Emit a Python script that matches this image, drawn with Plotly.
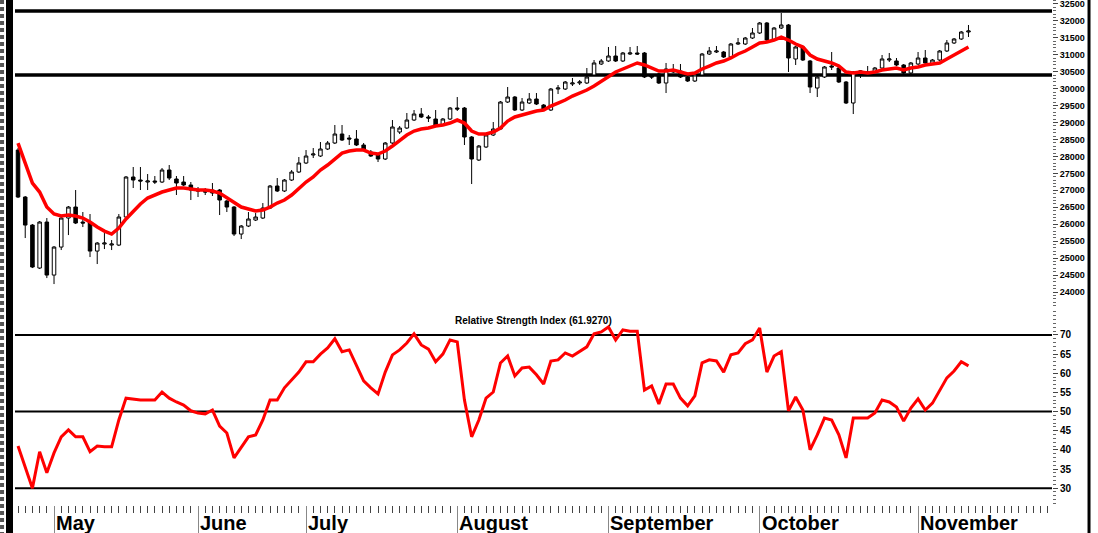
import plotly.graph_objects as go

# ---------------- data ----------------
day = list(range(1, 134))

open_ = [28189, 26803, 25976, 24708, 26065, 24501, 25327, 26183, 26508, 26065,
         26065, 25209, 25416, 25386, 25386, 26213, 27393, 27304, 27245, 27275,
         27245, 27599, 27334, 27245, 27157, 27009, 26980, 27009, 27009, 26685,
         26508, 25711, 25947, 26124, 26183, 26478, 27127, 26980, 27304, 27540,
         27806, 28042, 28012, 28219, 28396, 28661, 28543, 28514, 28337, 28130,
         28042, 27924, 28396, 28720, 28838, 29074, 29251, 29163, 29104, 28927,
         29104, 29428, 29428, 28573, 27894, 28278, 28632, 28809, 29605, 29752,
         29369, 29576, 29693, 29516, 29369, 29988, 29988, 30136, 30166, 30166,
         30402, 30726, 30815, 30962, 30815, 31021, 31051, 31051, 30372, 30431,
         30166, 30490, 30520, 30343, 30225, 30402, 31021, 31080, 31080, 30933,
         31316, 31316, 31493, 31641, 31936, 31434, 31788, 31877, 30874, 31228,
         30815, 30018, 30343, 30667, 30608, 30195, 29576, 30490, 30461, 30490,
         30608, 30844, 30815, 30697, 30461, 30726, 30903, 30726, 30844, 31110,
         31346, 31464, 31670]
high = [28248, 26832, 26006, 26095, 26183, 25357, 26213, 26537, 27009, 26360,
        26301, 25475, 25740, 25534, 26301, 27422, 27688, 27688, 27481, 27422,
        27658, 27747, 27422, 27422, 27245, 27098, 27068, 27216, 27039, 26714,
        26537, 25976, 26360, 26331, 26625, 27157, 27363, 27334, 27599, 27983,
        28189, 28248, 28425, 28455, 28927, 28927, 28632, 28779, 28396, 28189,
        28071, 28425, 29074, 28897, 29281, 29369, 29428, 29222, 29369, 29133,
        29458, 29752, 29458, 28602, 28337, 28661, 29015, 29634, 30048, 29782,
        29723, 29870, 29870, 29546, 30018, 30107, 30225, 30313, 30254, 30608,
        30844, 30874, 31228, 31257, 31080, 31228, 31257, 31080, 30431, 30461,
        30756, 30726, 30726, 30372, 30431, 31051, 31228, 31257, 31110, 31346,
        31493, 31523, 31788, 31965, 31965, 31818, 32231, 31906, 31257, 31257,
        30844, 30372, 30667, 31080, 30638, 30225, 30520, 30549, 30667, 30638,
        30992, 31051, 30903, 30726, 30785, 31080, 31139, 30874, 31139, 31434,
        31493, 31700, 31877]
low = [26773, 25593, 24708, 24679, 24413, 24236, 25239, 25681, 26006, 25917,
       25032, 24826, 25268, 25239, 25357, 26183, 27068, 27009, 27009, 27186,
       27216, 27304, 26862, 27127, 26714, 26803, 26862, 26832, 26272, 26360,
       25652, 25563, 25917, 26095, 26154, 26449, 26950, 26950, 27275, 27511,
       27776, 27953, 27983, 28189, 28366, 28455, 28337, 28307, 28160, 27983,
       27835, 27894, 28366, 28661, 28809, 29045, 29133, 29015, 28897, 28897,
       29074, 29340, 28337, 27186, 27865, 28248, 28602, 28779, 29576, 29340,
       29340, 29546, 29516, 29340, 29340, 29841, 29959, 30077, 30107, 30136,
       30372, 30697, 30785, 30785, 30785, 30992, 30992, 30313, 30284, 30136,
       29870, 30461, 30313, 30195, 30195, 30372, 30992, 31051, 30903, 30903,
       31287, 31287, 31464, 31611, 31405, 31405, 31759, 30490, 30697, 30815,
       29870, 29752, 30313, 30549, 30166, 29546, 29251, 30313, 30431, 30461,
       30579, 30785, 30667, 30431, 30431, 30697, 30726, 30697, 30815, 31080,
       31316, 31434, 31523]
close = [26803, 25976, 24738, 26065, 24501, 25327, 26183, 26508, 26036, 26036,
         25209, 25445, 25445, 25416, 26213, 27393, 27304, 27275, 27275, 27245,
         27599, 27363, 27216, 27157, 27009, 26980, 26950, 26921, 26714, 26508,
         25711, 25947, 26154, 26213, 26478, 27127, 26980, 27304, 27540, 27806,
         28012, 28071, 28219, 28396, 28661, 28484, 28514, 28337, 28189, 28012,
         27924, 28396, 28868, 28838, 29074, 29251, 29163, 29133, 28927, 29104,
         29428, 29399, 28573, 27924, 28307, 28632, 28809, 29605, 29752, 29369,
         29605, 29693, 29546, 29369, 29988, 30018, 30195, 30166, 30195, 30343,
         30756, 30815, 30962, 30815, 31051, 31051, 31021, 30343, 30343, 30166,
         30579, 30549, 30343, 30225, 30402, 31021, 31110, 31110, 30933, 31316,
         31346, 31493, 31641, 31936, 31434, 31788, 31877, 30903, 31228, 30844,
         30048, 30343, 30638, 30638, 30195, 29576, 30490, 30520, 30490, 30608,
         30874, 30874, 30697, 30461, 30756, 30903, 30756, 30844, 31110, 31346,
         31464, 31670, 31700]
moving_avg = [28395, 27776, 27215, 26950, 26507, 26301, 26242, 26272, 26242, 26183,
              26065, 25917, 25799, 25711, 25888, 26154, 26389, 26596, 26773, 26862,
              26950, 27009, 27068, 27068, 27039, 27009, 27009, 26980, 26921, 26773,
              26625, 26507, 26448, 26389, 26419, 26507, 26625, 26714, 26862, 27068,
              27245, 27393, 27599, 27746, 27924, 28100, 28159, 28189, 28189, 28100,
              28071, 28159, 28307, 28484, 28631, 28749, 28808, 28838, 28897, 28926,
              28985, 29074, 28985, 28749, 28661, 28661, 28720, 28838, 29044, 29163,
              29222, 29281, 29339, 29369, 29487, 29575, 29664, 29782, 29870, 29959,
              30077, 30224, 30343, 30490, 30579, 30667, 30756, 30697, 30608, 30519,
              30519, 30549, 30490, 30431, 30461, 30579, 30667, 30756, 30814, 30903,
              31021, 31110, 31227, 31345, 31375, 31434, 31522, 31434, 31316, 31227,
              30991, 30873, 30814, 30756, 30667, 30490, 30461, 30490, 30461, 30490,
              30549, 30579, 30608, 30549, 30608, 30638, 30697, 30726, 30756, 30873,
              30991, 31110, 31227]
rsi = [41.0, 35.5, 30.0, 39.5, 34.0, 39.2, 43.4, 45.2, 43.4, 43.4,
       39.5, 41.0, 40.8, 40.8, 47.8, 53.5, 53.3, 53.0, 53.0, 53.0,
       55.1, 53.5, 52.5, 51.7, 50.2, 49.6, 49.4, 50.4, 46.2, 44.4,
       37.9, 40.8, 43.4, 43.9, 47.8, 53.0, 53.0, 56.2, 58.3, 60.3,
       63.0, 63.0, 65.0, 66.6, 69.0, 65.6, 66.1, 62.2, 58.0, 56.2,
       54.6, 60.3, 64.8, 66.1, 67.9, 70.3, 67.4, 66.3, 63.0, 65.0,
       68.7, 68.2, 53.0, 43.4, 47.8, 53.5, 55.1, 62.7, 64.5, 59.3,
       61.4, 61.6, 59.6, 57.2, 63.2, 63.5, 65.3, 64.5, 65.6, 66.9,
       70.3, 70.8, 72.1, 68.7, 71.3, 71.0, 71.0, 55.6, 56.7, 52.0,
       57.2, 57.2, 53.5, 51.5, 54.1, 62.7, 63.5, 63.2, 60.3, 64.8,
       65.3, 67.7, 68.7, 71.8, 60.3, 64.5, 65.6, 50.2, 53.8, 50.4,
       40.0, 43.9, 48.3, 47.8, 43.9, 37.9, 48.3, 48.3, 48.3, 49.6,
       53.0, 52.5, 51.2, 47.5, 50.9, 53.3, 50.4, 52.2, 55.6, 58.8,
       60.6, 63.0, 61.927]

price_levels = [32290, 30400]
rsi_levels = [70, 50, 30]
months = ["May", "June", "July", "August", "September", "October", "November"]
month_start_day = [6, 26, 41, 62, 83, 104, 126]
rsi_title = "Relative Strength Index (61.9270)"

# ---------------- figure ----------------
FONT = "Liberation Sans, Arial, sans-serif"
fig = go.Figure()

fig.add_trace(go.Candlestick(
    x=day, open=open_, high=high, low=low, close=close,
    increasing=dict(line=dict(color="black", width=1), fillcolor="white"),
    decreasing=dict(line=dict(color="black", width=1), fillcolor="black"),
    whiskerwidth=0, showlegend=False, xaxis="x", yaxis="y", hoverinfo="skip"))

fig.add_trace(go.Scatter(x=day, y=moving_avg, mode="lines",
                         line=dict(color="#ff0000", width=3.5),
                         showlegend=False, xaxis="x", yaxis="y", hoverinfo="skip"))

fig.add_trace(go.Scatter(x=day, y=rsi, mode="lines",
                         line=dict(color="#ff0000", width=3),
                         showlegend=False, xaxis="x2", yaxis="y2", hoverinfo="skip"))

shapes = []
for lv in price_levels:
    shapes.append(dict(type="line", xref="x domain", yref="y", x0=0, x1=1, y0=lv, y1=lv,
                       line=dict(color="black", width=3.5), layer="below"))
for lv in rsi_levels:
    shapes.append(dict(type="line", xref="x2 domain", yref="y2", x0=0, x1=1, y0=lv, y1=lv,
                       line=dict(color="black", width=2), layer="below"))
# frame decorations
shapes.append(dict(type="line", xref="paper", yref="paper", x0=-0.0053, x1=-0.0053,
                   y0=1.0, y1=-0.06, line=dict(color="black", width=7)))
shapes.append(dict(type="line", xref="paper", yref="paper", x0=-0.0125, x1=-0.0125,
                   y0=1.0, y1=-0.06, line=dict(color="#555555", width=4, dash="4px,3px")))
shapes.append(dict(type="line", xref="paper", yref="paper", x0=1.0357, x1=1.0357,
                   y0=1.0, y1=-0.06, line=dict(color="black", width=3)))

annotations = []
for m, d in zip(months, month_start_day):
    annotations.append(dict(x=d, xref="x2", y=-0.036, yref="paper", text=m,
                            showarrow=False, xanchor="left", yanchor="middle", xshift=0,
                            font=dict(family=FONT, size=20, color="black", weight="bold")))
annotations.append(dict(x=0.5, xref="paper", y=0.366, yref="paper", text=rsi_title,
                        showarrow=False, xanchor="center", yanchor="middle",
                        font=dict(family=FONT, size=10, color="black", weight="bold")))

xr = [0.58, 144.6]
fig.update_layout(
    width=1098, height=533,
    margin=dict(l=15, r=46, t=0, b=28),
    paper_bgcolor="white", plot_bgcolor="white",
    font=dict(family=FONT, color="black"),
    shapes=shapes, annotations=annotations,
    xaxis=dict(domain=[0, 1], anchor="y", range=xr, showticklabels=False, ticks="",
               showgrid=False, zeroline=False, showline=False,
               rangeslider=dict(visible=False)),
    xaxis2=dict(domain=[0, 1], anchor="y2", range=xr, matches="x",
                tickmode="array", tickvals=month_start_day, ticktext=[""] * len(months),
                ticks="outside", ticklen=28, tickcolor="#888888", tickwidth=1,
                minor=dict(tickmode="linear", tick0=0, dtick=1, ticks="outside",
                           ticklen=7, tickcolor="#444444", tickwidth=1),
                showgrid=False, zeroline=False, showline=False),
    yaxis=dict(domain=[0.39, 1], anchor="x", side="right", range=[23528, 32614],
               tickmode="linear", tick0=0, dtick=500, tickformat="d",
               ticklabeloverflow="allow",
               ticks="outside", ticklen=5, tickcolor="#444444", tickwidth=1,
               minor=dict(tickmode="linear", tick0=0, dtick=100, ticks="outside",
                          ticklen=3, tickcolor="#666666", tickwidth=1),
               tickfont=dict(family=FONT, size=9, color="black", weight="bold"),
               showgrid=False, zeroline=False, showline=False),
    yaxis2=dict(domain=[0, 0.386], anchor="x2", side="right", range=[25.6, 76.5],
                tickmode="array", tickvals=[30, 35, 40, 45, 50, 55, 60, 65, 70],
                ticks="outside", ticklen=5, tickcolor="#444444", tickwidth=1,
                minor=dict(tickmode="linear", tick0=0, dtick=1, ticks="outside",
                           ticklen=3, tickcolor="#666666", tickwidth=1),
                tickfont=dict(family=FONT, size=10, color="black", weight="bold"),
                showgrid=False, zeroline=False, showline=False),
)

fig.write_html("out.html",
               config={"displayModeBar": False, "staticPlot": True},
               post_script="document.body.style.margin='0';document.body.style.overflow='hidden';")
